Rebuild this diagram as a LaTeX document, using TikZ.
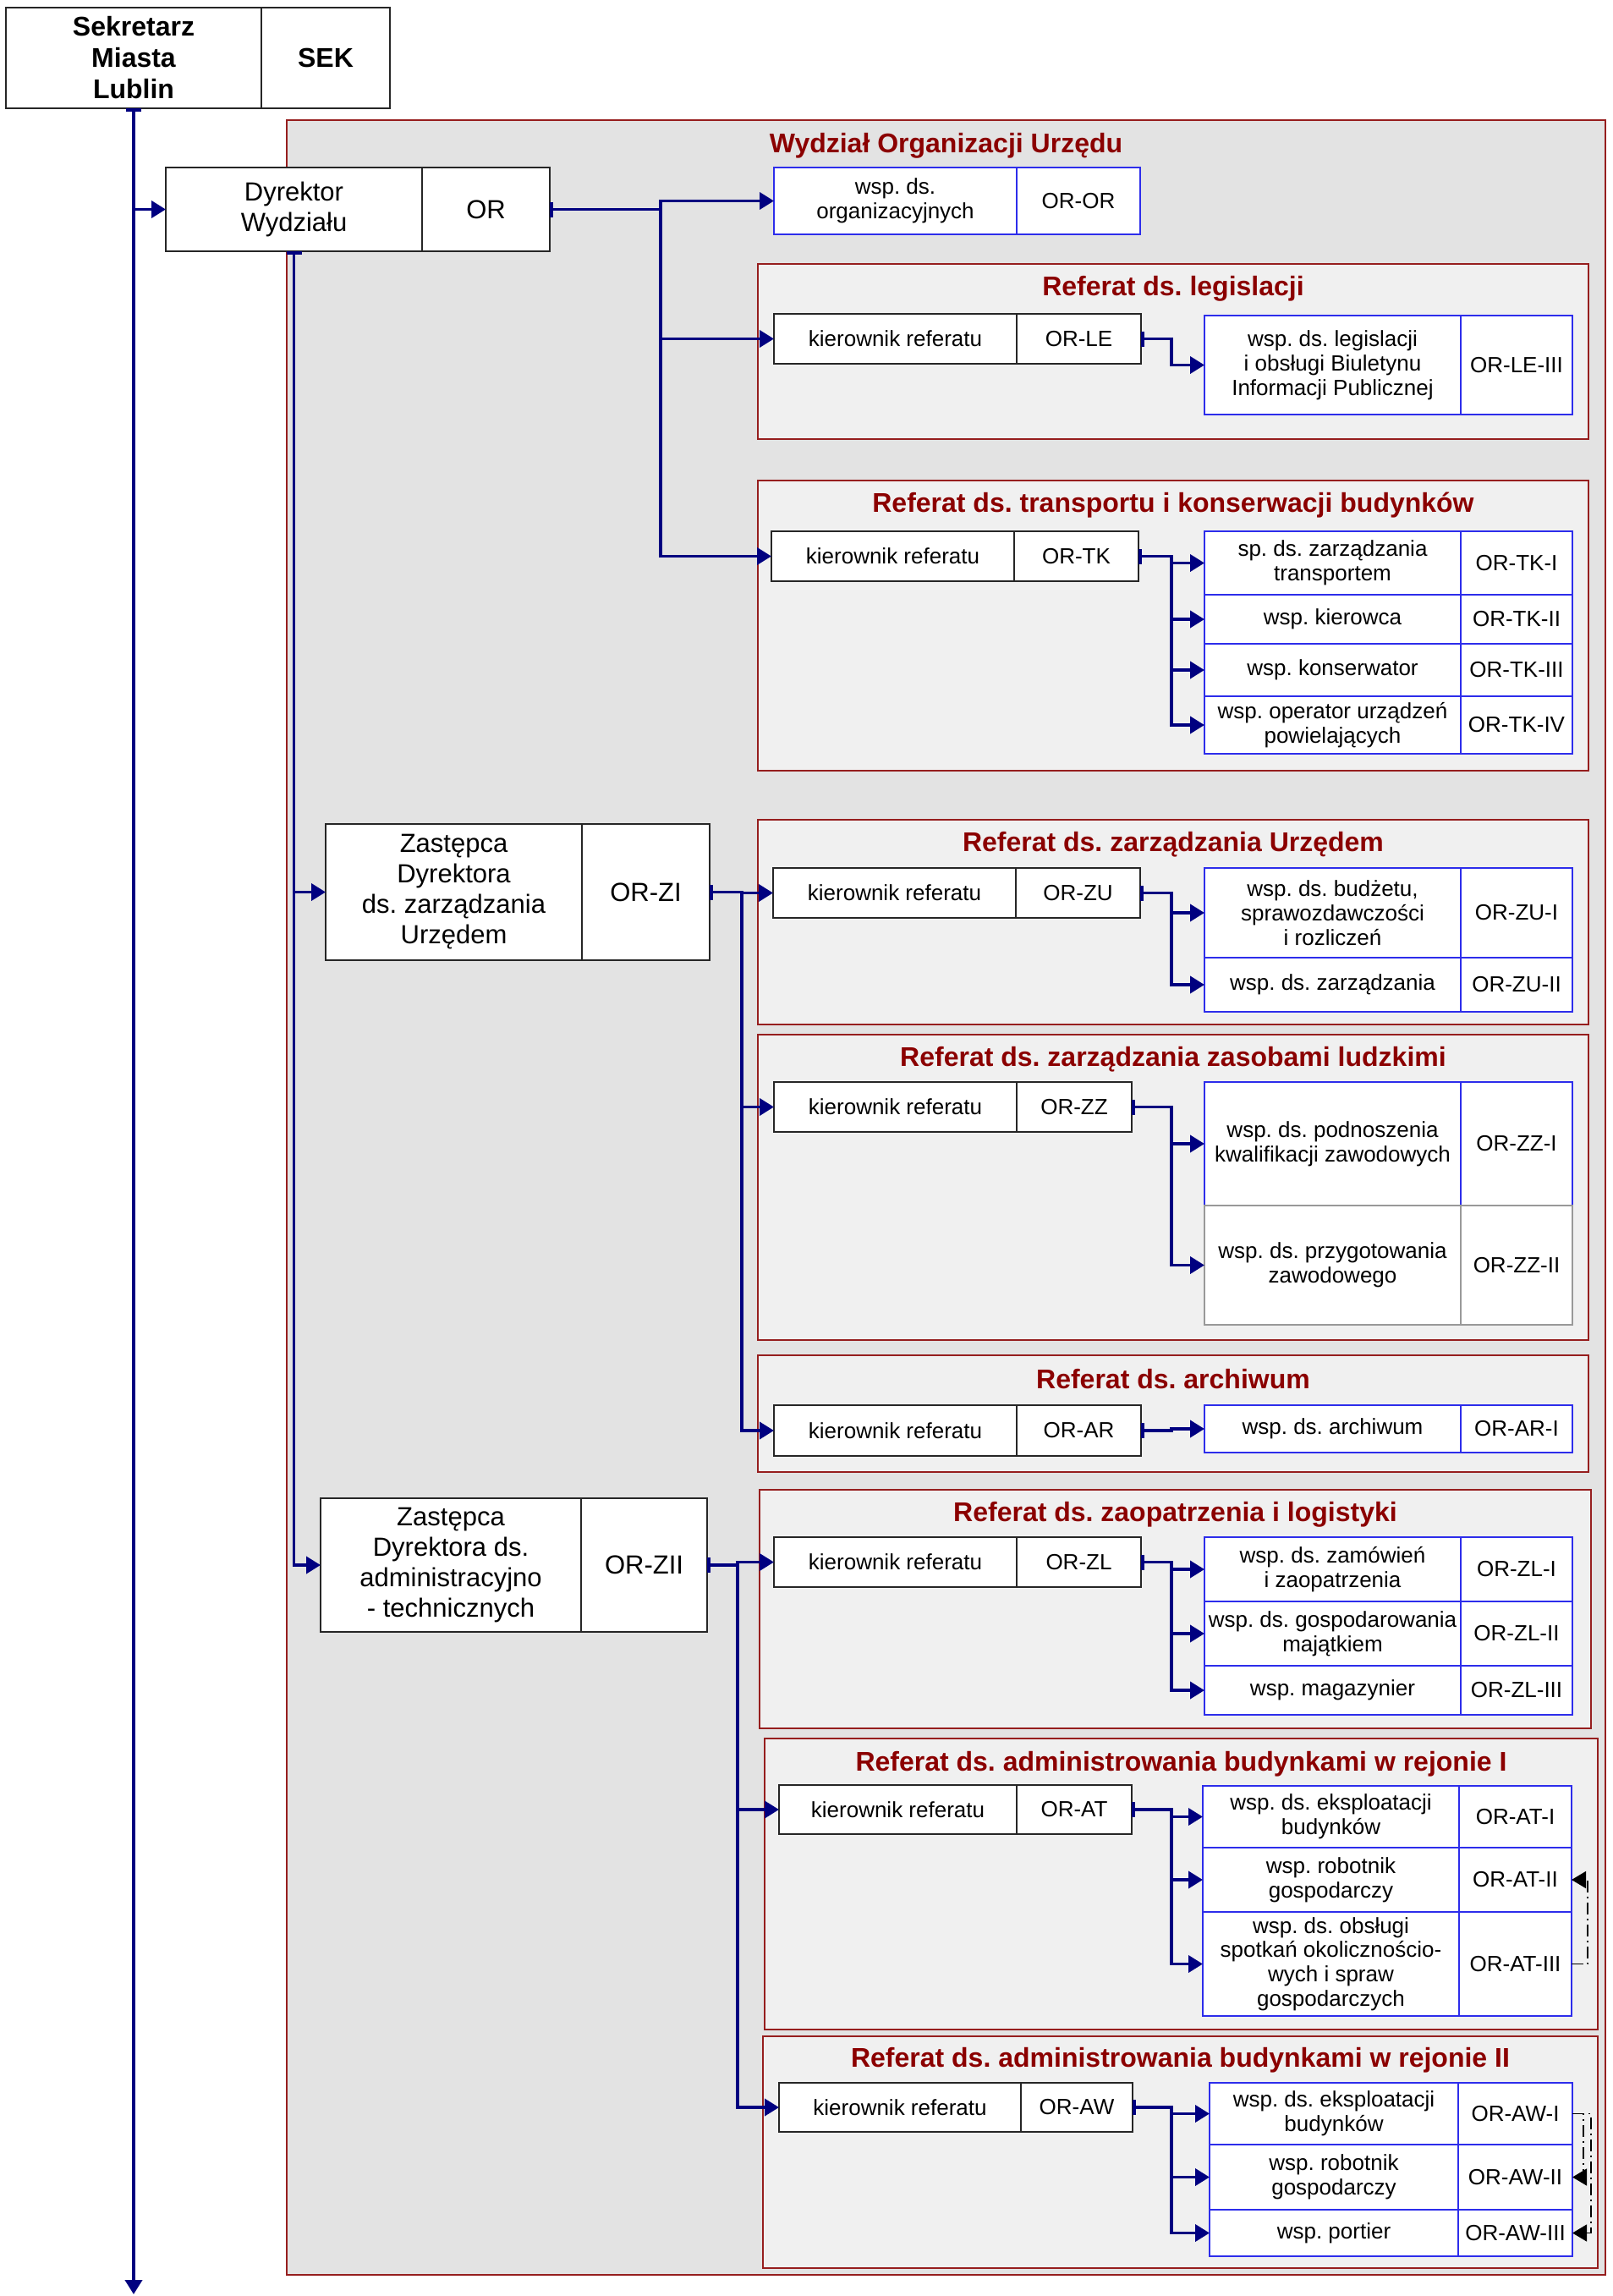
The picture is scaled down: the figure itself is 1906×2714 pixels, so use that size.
\documentclass[tikz,border=0pt]{standalone}
\usepackage{fontspec}
\setmainfont{Liberation Sans}
\frenchspacing
\usepackage{tikz}
\usetikzlibrary{positioning,arrows.meta}

\definecolor{liniaNavy}{RGB}{0,0,128}
\definecolor{ramkaRed}{RGB}{150,30,30}
\definecolor{tytulRed}{RGB}{139,0,0}
\definecolor{tloWydz}{RGB}{227,227,227}
\definecolor{tloRef}{RGB}{240,240,240}
\definecolor{stanBlue}{RGB}{45,45,235}

\tikzset{
  cell/.style={fill=white, line width=0.7pt, outer sep=0pt, inner sep=1pt, align=center},
  wym/.style 2 args={minimum width=#1pt, minimum height=#2pt},
  kier/.style={cell, draw=black!85, font=\fontsize{13}{14.4}\selectfont},
  stan/.style={cell, draw=stanBlue, font=\fontsize{13}{14.4}\selectfont},
  glowa/.style={cell, draw=black!85, font=\fontsize{15.5}{18}\selectfont},
  sek/.style={cell, draw=black!85, font=\bfseries\fontsize{16}{18.5}\selectfont},
  wydzial/.style={draw=ramkaRed, fill=tloWydz, line width=0.8pt, outer sep=0pt, inner sep=0pt},
  referat/.style={draw=ramkaRed, fill=tloRef, line width=0.8pt, outer sep=0pt, inner sep=0pt},
  tytul/.style={text=tytulRed, font=\bfseries\fontsize{16}{19}\selectfont, inner sep=0pt},
  conn/.style={draw=liniaNavy, line width=1.9pt, line cap=rect},
  strz/.style={-{Triangle[length=8.5pt,width=10pt]}},
  startb/.style={{Bar[width=9pt]}-},
  strzb/.style={{Bar[width=9pt]}-{Triangle[length=8.5pt,width=10pt]}},
  przyp/.style={draw=black, line width=0.6pt, dash pattern=on 7pt off 2.5pt on 1pt off 2.5pt,
    -{Triangle[length=8.5pt,width=10pt]}}
}

\begin{document}
\begin{tikzpicture}[x=0.5pt, y=-0.5pt]
    \path[use as bounding box, fill=white] (0,0) rectangle (1906,2714);

    % draw department and section frames
    \node[wydzial, anchor=north west, wym={779.5}{1273.5}] (wydz) at (339,142) {};
    \node[tytul] (twydz) at ([yshift=-15pt]wydz.north) {Wydział Organizacji Urzędu};

    \node[referat, anchor=north west, wym={491}{103.5}] (fle) at (896,312) {};
    \node[tytul] (tle) at ([yshift=-14.5pt]fle.north) {Referat ds. legislacji};
    \node[referat, anchor=north west, wym={491}{171.5}] (ftk) at (896,568) {};
    \node[tytul] (ttk) at ([yshift=-14.5pt]ftk.north) {Referat ds. transportu i konserwacji budynków};
    \node[referat, anchor=north west, wym={491}{121}] (fzu) at (896,969) {};
    \node[tytul] (tzu) at ([yshift=-14.5pt]fzu.north) {Referat ds. zarządzania Urzędem};
    \node[referat, anchor=north west, wym={491}{180.5}] (fzz) at (896,1223) {};
    \node[tytul] (tzz) at ([yshift=-14.5pt]fzz.north) {Referat ds. zarządzania zasobami ludzkimi};
    \node[referat, anchor=north west, wym={491}{69}] (far) at (896,1602) {};
    \node[tytul] (tar) at ([yshift=-14pt]far.north) {Referat ds. archiwum};
    \node[referat, anchor=north west, wym={491.5}{141}] (fzl) at (898,1761) {};
    \node[tytul] (tzl) at ([yshift=-14.5pt]fzl.north) {Referat ds. zaopatrzenia i logistyki};
    \node[referat, anchor=north west, wym={492.5}{172}] (fat) at (904,2055) {};
    \node[tytul] (tat) at ([yshift=-15pt]fat.north) {Referat ds. administrowania budynkami w rejonie I};
    \node[referat, anchor=north west, wym={493.5}{137}] (faw) at (902,2407) {};
    \node[tytul] (taw) at ([yshift=-14pt]faw.north) {Referat ds. administrowania budynkami w rejonie II};

    % draw heads
    \node[sek, anchor=north west, wym={151}{59.5}] (sekn) at (7,9) {Sekretarz\\Miasta\\Lublin};
    \node[sek, wym={76}{59.5}, right=0pt of sekn] (sekc) {SEK};
    \node[glowa, anchor=north west, wym={151.5}{49.5}] (dyrn) at (196,198) {Dyrektor\\Wydziału};
    \node[glowa, wym={75.5}{49.5}, right=0pt of dyrn] (dyrc) {OR};
    \node[glowa, anchor=north west, wym={151.5}{80.5}] (zin) at (385,974) {Zastępca\\Dyrektora\\ds. zarządzania\\Urzędem};
    \node[glowa, wym={75.5}{80.5}, right=0pt of zin] (zic) {OR-ZI};
    \node[glowa, anchor=north west, wym={154}{79}] (ziin) at (379,1771) {Zastępca\\Dyrektora ds.\\administracyjno\\- technicznych};
    \node[glowa, wym={74.5}{79}, right=0pt of ziin] (ziic) {OR-ZII};

    % draw posts directly under the director
    \node[stan, anchor=north west, wym={143.5}{39.5}] (orgn) at (915,198) {wsp. ds.\\organizacyjnych};
    \node[stan, wym={73}{39.5}, right=0pt of orgn] (orgc) {OR-OR};

    % Referat ds. legislacji
    \node[kier, anchor=north west, wym={143.5}{29.5}] (kle) at (915,371) {kierownik referatu};
    \node[kier, wym={73.5}{29.5}, right=0pt of kle] (klec) {OR-LE};
    \node[stan, anchor=north west, wym={151.5}{58.5}] (wle1) at (1424,373) {wsp. ds. legislacji\\i obsługi Biuletynu\\Informacji Publicznej};
    \node[stan, wym={66}{58.5}, right=0pt of wle1] (wle1c) {OR-LE-III};

    % Referat ds. transportu
    \node[kier, anchor=north west, wym={143.5}{29.5}] (ktk) at (912,628) {kierownik referatu};
    \node[kier, wym={73.5}{29.5}, right=0pt of ktk] (ktkc) {OR-TK};
    \node[stan, anchor=north west, wym={151.5}{37.5}] (wtk1) at (1424,628) {sp. ds. zarządzania\\transportem};
    \node[stan, wym={151.5}{29}, below=0pt of wtk1] (wtk2) {wsp. kierowca};
    \node[stan, wym={151.5}{31}, below=0pt of wtk2] (wtk3) {wsp. konserwator};
    \node[stan, wym={151.5}{34}, below=0pt of wtk3] (wtk4) {wsp. operator urządzeń\\powielających};
    \node[stan, wym={66}{37.5}, right=0pt of wtk1] (wtk1c) {OR-TK-I};
    \node[stan, wym={66}{29}, right=0pt of wtk2] (wtk2c) {OR-TK-II};
    \node[stan, wym={66}{31}, right=0pt of wtk3] (wtk3c) {OR-TK-III};
    \node[stan, wym={66}{34}, right=0pt of wtk4] (wtk4c) {OR-TK-IV};

    % Referat ds. zarzadzania Urzedem
    \node[kier, anchor=north west, wym={143.5}{29.5}] (kzu) at (914,1026) {kierownik referatu};
    \node[kier, wym={73.5}{29.5}, right=0pt of kzu] (kzuc) {OR-ZU};
    \node[stan, anchor=north west, wym={151.5}{53}] (wzu1) at (1424,1026) {wsp. ds. budżetu,\\sprawozdawczości\\i rozliczeń};
    \node[stan, wym={151.5}{32}, below=0pt of wzu1] (wzu2) {wsp. ds. zarządzania};
    \node[stan, wym={66}{53}, right=0pt of wzu1] (wzu1c) {OR-ZU-I};
    \node[stan, wym={66}{32}, right=0pt of wzu2] (wzu2c) {OR-ZU-II};

    % Referat ds. zasobow ludzkich
    \node[kier, anchor=north west, wym={143.5}{29.5}] (kzz) at (915,1279) {kierownik referatu};
    \node[kier, wym={68}{29.5}, right=0pt of kzz] (kzzc) {OR-ZZ};
    \node[stan, anchor=north west, wym={151.5}{73}] (wzz1) at (1424,1279) {wsp. ds. podnoszenia\\kwalifikacji zawodowych};
    \node[stan, draw=gray!80, wym={151.5}{70.5}, below=0pt of wzz1] (wzz2) {wsp. ds. przygotowania\\zawodowego};
    \node[stan, wym={66}{73}, right=0pt of wzz1] (wzz1c) {OR-ZZ-I};
    \node[stan, draw=gray!80, wym={66}{70.5}, right=0pt of wzz2] (wzz2c) {OR-ZZ-II};

    % Referat ds. archiwum
    \node[kier, anchor=north west, wym={143.5}{30}] (kar) at (915,1661) {kierownik referatu};
    \node[kier, wym={73.5}{30}, right=0pt of kar] (karc) {OR-AR};
    \node[stan, anchor=north west, wym={151.5}{28}] (war1) at (1424,1661) {wsp. ds. archiwum};
    \node[stan, wym={66}{28}, right=0pt of war1] (war1c) {OR-AR-I};

    % Referat ds. zaopatrzenia
    \node[kier, anchor=north west, wym={143.5}{29.5}] (kzl) at (915,1817) {kierownik referatu};
    \node[kier, wym={73.5}{29.5}, right=0pt of kzl] (kzlc) {OR-ZL};
    \node[stan, anchor=north west, wym={151.5}{38}] (wzl1) at (1424,1817) {wsp. ds. zamówień\\i zaopatrzenia};
    \node[stan, wym={151.5}{38}, below=0pt of wzl1] (wzl2) {wsp. ds. gospodarowania\\majątkiem};
    \node[stan, wym={151.5}{29}, below=0pt of wzl2] (wzl3) {wsp. magazynier};
    \node[stan, wym={66}{38}, right=0pt of wzl1] (wzl1c) {OR-ZL-I};
    \node[stan, wym={66}{38}, right=0pt of wzl2] (wzl2c) {OR-ZL-II};
    \node[stan, wym={66}{29}, right=0pt of wzl3] (wzl3c) {OR-ZL-III};

    % Referat ds. administrowania - rejon I
    \node[kier, anchor=north west, wym={140.5}{29}] (kat) at (921,2110) {kierownik referatu};
    \node[kier, wym={68}{29}, right=0pt of kat] (katc) {OR-AT};
    \node[stan, anchor=north west, wym={151.5}{36.5}] (wat1) at (1422,2111) {wsp. ds. eksploatacji\\budynków};
    \node[stan, wym={151.5}{38}, below=0pt of wat1] (wat2) {wsp. robotnik\\gospodarczy};
    \node[stan, wym={151.5}{61.5}, below=0pt of wat2] (wat3) {wsp. ds. obsługi\\spotkań okolicznościo-\\wych i spraw\\gospodarczych};
    \node[stan, wym={66.5}{36.5}, right=0pt of wat1] (wat1c) {OR-AT-I};
    \node[stan, wym={66.5}{38}, right=0pt of wat2] (wat2c) {OR-AT-II};
    \node[stan, wym={66.5}{61.5}, right=0pt of wat3] (wat3c) {OR-AT-III};

    % Referat ds. administrowania - rejon II
    \node[kier, anchor=north west, wym={143}{29}] (kaw) at (921,2462) {kierownik referatu};
    \node[kier, wym={66}{29}, right=0pt of kaw] (kawc) {OR-AW};
    \node[stan, anchor=north west, wym={147}{36.5}] (waw1) at (1430,2462) {wsp. ds. eksploatacji\\budynków};
    \node[stan, wym={147}{38.5}, below=0pt of waw1] (waw2) {wsp. robotnik\\gospodarczy};
    \node[stan, wym={147}{27.5}, below=0pt of waw2] (waw3) {wsp. portier};
    \node[stan, wym={67.5}{36.5}, right=0pt of waw1] (waw1c) {OR-AW-I};
    \node[stan, wym={67.5}{38.5}, right=0pt of waw2] (waw2c) {OR-AW-II};
    \node[stan, wym={67.5}{27.5}, right=0pt of waw3] (waw3c) {OR-AW-III};

    % bus lines
    \coordinate (dolna) at (158,2712);
    \coordinate (orbus) at (781,0);
    \coordinate (zibus) at (877,0);
    \coordinate (ziibus) at (872,0);
    \coordinate (refbus) at (1385,0);
    \coordinate (dashat) at (1877,0);
    \coordinate (dashaw) at (1872,0);
    \coordinate (dashawb) at (1881,0);

    % draw main connectors
    \draw[conn, strzb] (sekn.south) -- (sekn.south |- dolna);
    \draw[conn, strz] (sekn.south |- dyrn.west) -- (dyrn.west);
    \draw[conn, strzb] (dyrn.south) |- (ziin.west);
    \draw[conn, strz] (dyrn.south |- zin.west) -- (zin.west);

    \draw[conn, startb] (dyrc.east) -- (orbus |- dyrc.east);
    \draw[conn] (orbus |- orgn.west) -- (orbus |- ktk.west);
    \foreach \w in {orgn,kle,ktk}
    \draw[conn, strz] (orbus |- \w.west) -- (\w.west);

    \draw[conn, startb] (zic.east) -| (zibus |- kar.west);
    \foreach \w in {kzu,kzz,kar}
    \draw[conn, strz] (zibus |- \w.west) -- (\w.west);

    \draw[conn, startb] (ziic.east) -| (ziibus |- kaw.west);
    \foreach \w in {kzl,kat,kaw}
    \draw[conn, strz] (ziibus |- \w.west) -- (\w.west);

    % draw connectors inside the sections
    \foreach \k/\last in {klec/wle1, ktkc/wtk4, kzuc/wzu2, kzzc/wzz2, karc/war1, kzlc/wzl3, katc/wat3, kawc/waw3}
    \draw[conn, startb] (\k.east) -| (refbus |- \last.west);
    \foreach \w in {wle1,wtk1,wtk2,wtk3,wtk4,wzu1,wzu2,wzz1,wzz2,war1,wzl1,wzl2,wzl3,wat1,wat2,wat3,waw1,waw2,waw3}
    \draw[conn, strz] (refbus |- \w.west) -- (\w.west);

    % dashed links
    \draw[przyp] (wat3c.east) -- (dashat |- wat3c.east) -- (dashat |- wat2c.east) -- (wat2c.east);
    \draw[przyp] (waw1c.east) -- (dashaw |- waw1c.east) -- (dashaw |- waw2c.east) -- (waw2c.east);
    \draw[przyp] (waw1c.east) -- (dashawb |- waw1c.east) -- (dashawb |- waw3c.east) -- (waw3c.east);
\end{tikzpicture}
\end{document}
